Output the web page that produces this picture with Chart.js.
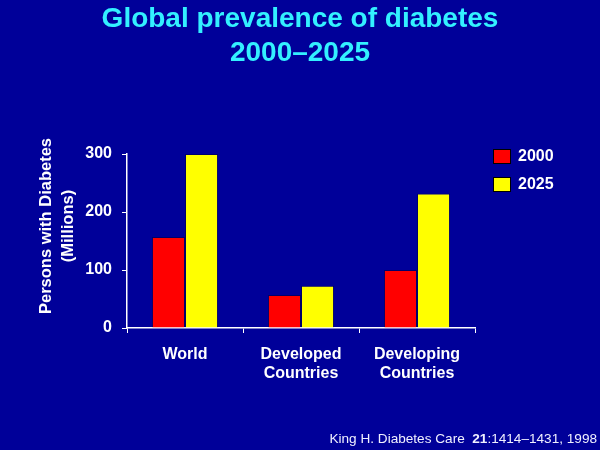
<!DOCTYPE html>
<html>
<head>
<meta charset="utf-8">
<script src="https://cdn.jsdelivr.net/npm/chart.js@4.4.0/dist/chart.umd.min.js"></script>
<style>
  html, body { margin: 0; padding: 0; background: #000099; }
  #wrap { width: 600px; height: 450px; }
</style>
</head>
<body>
<div id="wrap"><canvas id="myChart" width="600" height="450"></canvas></div>
<script>
// chart data
var regions = [["World"], ["Developed", "Countries"], ["Developing", "Countries"]];
var years = ["2000", "2025"];
var values2000 = [157, 57, 100];
var values2025 = [300, 73, 232];
var yTicks = [0, 100, 200, 300];

var seriesColors = ["#ff0000", "#ffff00"];
var FONT = "'Liberation Sans', Arial, sans-serif";

// title, legend, axis title and source line drawn on top of the chart
var extras = {
  id: "extras",
  afterDraw: function(chart) {
    var ctx = chart.ctx;
    ctx.save();

    // title, centred on the whole page
    ctx.fillStyle = "#33f0ff";
    ctx.font = "bold 28px " + FONT;
    ctx.textAlign = "center";
    ctx.textBaseline = "alphabetic";
    ctx.fillText("Global prevalence of diabetes", 300, 27);
    ctx.fillText("2000\u20132025", 300, 61);

    // legend boxes
    chart.data.datasets.forEach(function(ds, i) {
      var y = 149 + i * 28;
      ctx.fillStyle = ds.backgroundColor;
      ctx.fillRect(493, y, 18, 15);
      ctx.strokeStyle = "#000000";
      ctx.lineWidth = 1;
      ctx.strokeRect(493.5, y + 0.5, 17, 14);
      ctx.fillStyle = "#ffffff";
      ctx.font = "bold 16px " + FONT;
      ctx.textAlign = "left";
      ctx.textBaseline = "middle";
      ctx.fillText(ds.label, 518, y + 8);
    });

    // y axis title
    ctx.translate(56, 226);
    ctx.rotate(-Math.PI / 2);
    ctx.fillStyle = "#ffffff";
    ctx.font = "bold 16.5px " + FONT;
    ctx.textAlign = "center";
    ctx.textBaseline = "middle";
    ctx.fillText("Persons with Diabetes", 0, -10);
    ctx.fillText("(Millions)", 0, 12);
    ctx.setTransform(1, 0, 0, 1, 0, 0);

    // source
    ctx.textBaseline = "alphabetic";
    ctx.textAlign = "left";
    var a = "King H. Diabetes Care  ";
    var b = "21";
    var c = ":1414\u20131431, 1998";
    var size = "13.6px ";
    ctx.font = size + FONT;
    var wa = ctx.measureText(a).width;
    var wc = ctx.measureText(c).width;
    ctx.font = "bold " + size + FONT;
    var wb = ctx.measureText(b).width;
    var x = 597 - (wa + wb + wc);
    ctx.fillStyle = "#f0f0ff";
    ctx.font = size + FONT;
    ctx.fillText(a, x, 443);
    ctx.font = "bold " + size + FONT;
    ctx.fillText(b, x + wa, 443);
    ctx.font = size + FONT;
    ctx.fillText(c, x + wa + wb, 443);
    ctx.restore();
  }
};

var ctx = document.getElementById("myChart").getContext("2d");
var myChart = new Chart(ctx, {
  type: "bar",
  data: {
    labels: regions,
    datasets: [
      {
        label: years[0],
        data: values2000,
        backgroundColor: seriesColors[0],
        borderColor: "rgba(0,0,0,0.3)",
        borderWidth: 1
      },
      {
        label: years[1],
        data: values2025,
        backgroundColor: seriesColors[1],
        borderColor: "rgba(0,0,0,0.3)",
        borderWidth: 1
      }
    ]
  },
  options: {
    responsive: false,
    animation: false,
    devicePixelRatio: 1,
    layout: { padding: { top: 154, left: 0, right: 125, bottom: 62 } },
    datasets: { bar: { barPercentage: 1, categoryPercentage: 0.57 } },
    plugins: {
      legend: { display: false },
      tooltip: { enabled: false },
      title: { display: false }
    },
    scales: {
      x: {
        afterFit: function(s) { s.height = 60; },
        border: { color: "#ffffff", width: 1.5 },
        grid: { display: true, drawOnChartArea: false, color: "#ffffff", tickLength: 5, offset: true },
        ticks: { color: "#ffffff", padding: 12, font: { family: FONT, size: 16, weight: "bold" } }
      },
      y: {
        min: 0,
        max: 300,
        afterFit: function(s) { s.width = 127; },
        afterBuildTicks: function(s) { s.ticks = yTicks.map(function(v) { return { value: v }; }); },
        border: { color: "#ffffff", width: 1.5 },
        grid: { display: true, drawOnChartArea: false, color: "#ffffff", tickLength: 5 },
        ticks: { color: "#ffffff", padding: 10, font: { family: FONT, size: 16, weight: "bold" } }
      }
    }
  },
  plugins: [extras]
});
</script>
</body>
</html>
